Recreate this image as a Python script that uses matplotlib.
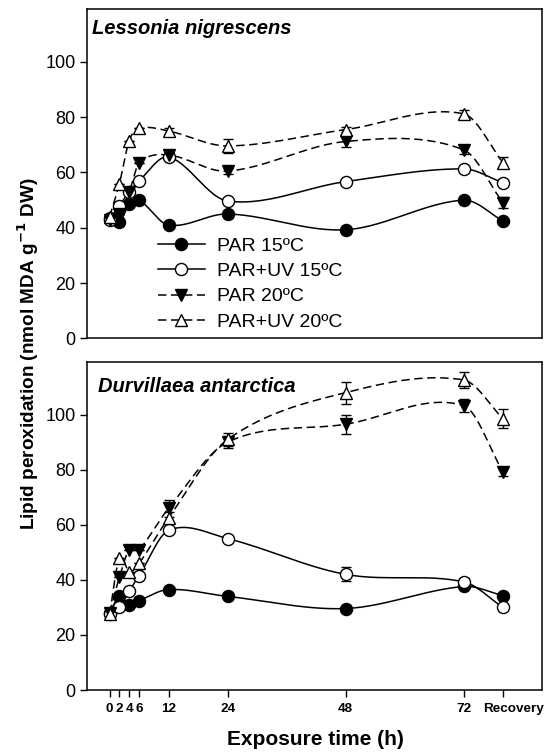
import matplotlib
matplotlib.use("Agg")
import matplotlib.pyplot as plt
import numpy as np
from matplotlib.lines import Line2D
from matplotlib.transforms import ScaledTranslation

plt.rcParams["font.family"] = ["Liberation Sans", "DejaVu Sans"]

# ---------------------------------------------------------------------------
# Data
# ---------------------------------------------------------------------------
TIME = [0, 2, 4, 6, 12, 24, 48, 72, 80]          # 80 = "Recovery"
TICK_LABELS = ["0", "2", "4", "6", "12", "24", "48", "72", "Recovery"]

# Lessonia nigrescens
LN_PAR15 = [43.5, 42.0, 48.5, 50.0, 41.0, 45.0, 39.3, 50.0, 42.5]
LN_UV15 = [43.0, 48.0, 53.0, 57.0, 65.6, 49.7, 56.7, 61.3, 56.3]
LN_PAR20 = [43.0, 45.0, 53.0, 63.5, 66.3, 60.5, 71.2, 68.2, 49.0]
LN_UV20 = [44.0, 56.0, 71.5, 76.0, 75.0, 69.6, 75.5, 81.2, 63.6]
LN_ERR_PAR20 = [0, 0, 0, 0, 1.0, 1.0, 2.0, 1.5, 2.0]
LN_ERR_UV20 = [0, 0, 0, 0, 1.0, 2.5, 1.0, 1.5, 2.0]

# Durvillaea antarctica
DA_PAR15 = [28.0, 34.0, 31.0, 32.5, 36.5, 34.0, 29.6, 37.6, 34.3]
DA_UV15 = [27.5, 30.0, 36.0, 41.5, 58.0, 55.0, 42.0, 39.3, 30.0]
DA_PAR20 = [28.0, 41.0, 51.0, 51.0, 66.0, 90.0, 96.5, 103.3, 79.2]
DA_UV20 = [27.5, 48.0, 43.0, 46.0, 62.5, 91.0, 108.0, 112.6, 98.5]
DA_ERR_UV15 = [0, 0, 0, 0, 1.0, 1.0, 2.5, 1.5, 1.0]
DA_ERR_PAR20 = [0, 0, 0, 0, 3.0, 2.0, 3.5, 2.5, 1.5]
DA_ERR_UV20 = [0, 0, 0, 0, 2.0, 2.5, 4.0, 3.0, 3.5]

LABELS = ["PAR 15ºC", "PAR+UV 15ºC", "PAR 20ºC", "PAR+UV 20ºC"]


def smooth(x, y, n=30):
    """Hermite curve through the points (SigmaPlot-like spline look)."""
    x = np.asarray(x, float)
    y = np.asarray(y, float)
    m = np.zeros_like(y)
    m[1:-1] = (y[2:] - y[:-2]) / (x[2:] - x[:-2])
    m[0] = (y[1] - y[0]) / (x[1] - x[0])
    m[-1] = (y[-1] - y[-2]) / (x[-1] - x[-2])
    xs, ys = [], []
    for i in range(len(x) - 1):
        h = x[i + 1] - x[i]
        t = np.linspace(0, 1, n)
        h00 = 2 * t**3 - 3 * t**2 + 1
        h10 = t**3 - 2 * t**2 + t
        h01 = -2 * t**3 + 3 * t**2
        h11 = t**3 - t**2
        xs.append(x[i] + t * h)
        ys.append(h00 * y[i] + h10 * h * m[i] + h01 * y[i + 1] + h11 * h * m[i + 1])
    return np.concatenate(xs), np.concatenate(ys)


STYLES = [
    dict(marker="o", mfc="black", ls="-"),
    dict(marker="o", mfc="white", ls="-"),
    dict(marker="v", mfc="black", ls=(0, (5.5, 3))),
    dict(marker="^", mfc="white", ls=(0, (5.5, 3))),
]


def draw(ax, series, errors, name, name_x, name_y):
    for (vals, err), st in zip(zip(series, errors), STYLES):
        sx, sy = smooth(TIME, vals)
        ax.plot(sx, sy, color="black", lw=1.1, ls=st["ls"], zorder=2)
        if err is not None:
            ax.errorbar(TIME, vals, yerr=err, fmt="none", ecolor="black",
                        elinewidth=1.0, capsize=3.5, capthick=1.0, zorder=3)
        ax.plot(TIME, vals, ls="none", marker=st["marker"], ms=8.7,
                mfc=st["mfc"], mec="black", mew=1.0, zorder=4)

    ax.set_xlim(-4.5, 88)
    ax.set_ylim(0, 119)
    ax.set_yticks([0, 20, 40, 60, 80, 100])
    ax.tick_params(axis="y", direction="out", length=5, width=1,
                   labelsize=13, pad=3.5)
    for sp in ax.spines.values():
        sp.set_linewidth(1.1)
    ax.text(name_x, name_y, name, transform=ax.transAxes, ha="left",
            va="baseline", fontsize=14.5, fontweight="bold", fontstyle="italic")


fig = plt.figure(figsize=(5.5, 7.52), dpi=100)
ax_top = fig.add_axes([0.159, 0.5499, 0.827, 0.4378])
ax_bot = fig.add_axes([0.159, 0.0824, 0.827, 0.4358])

draw(ax_top, [LN_PAR15, LN_UV15, LN_PAR20, LN_UV20],
     [None, None, LN_ERR_PAR20, LN_ERR_UV20], "Lessonia nigrescens", 0.01, 0.926)
draw(ax_bot, [DA_PAR15, DA_UV15, DA_PAR20, DA_UV20],
     [None, DA_ERR_UV15, DA_ERR_PAR20, DA_ERR_UV20], "Durvillaea antarctica",
     0.024, 0.910)

ax_top.set_xticks([])
ax_bot.set_xticks(TIME)
ax_bot.set_xticklabels(TICK_LABELS, fontsize=9.7, fontweight="bold")
ax_bot.tick_params(axis="x", direction="out", length=5, width=1, pad=4.5)
# "Recovery" sits a little to the right of its tick in the original
rec = ax_bot.get_xticklabels()[-1]
rec.set_transform(rec.get_transform() + ScaledTranslation(0.11, 0, fig.dpi_scale_trans))

handles = [
    Line2D([], [], color="black", lw=1.1, ls=st["ls"], marker=st["marker"],
           ms=8.7, mfc=st["mfc"], mec="black", mew=1.0)
    for st in STYLES
]
ax_top.legend(handles, LABELS, loc="upper left", bbox_to_anchor=(0.155, 0.307),
              frameon=False, fontsize=14, handlelength=2.4, handletextpad=0.65,
              labelspacing=0.39, borderpad=0, borderaxespad=0)

fig.text(0.052, 0.529, "Lipid peroxidation (nmol MDA g$^{\\mathbf{-1}}$ DW)",
         rotation=90, ha="center", va="center", fontsize=13.7, fontweight="bold")
fig.text(0.574, 0.017, "Exposure time (h)", ha="center", va="center",
         fontsize=15, fontweight="bold")

fig.savefig("out.png", dpi=100)
